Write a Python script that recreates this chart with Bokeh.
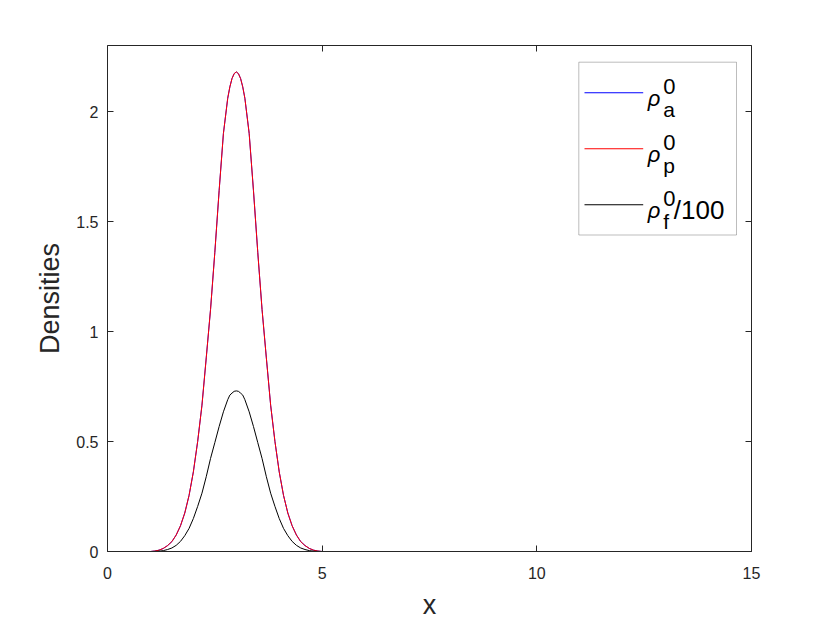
from bokeh.plotting import figure
from bokeh.models import (Range1d, LinearAxis, FixedTicker, BoxAnnotation, Label)
from bokeh.embed import file_html
from bokeh.resources import INLINE

# ---- data ----
x_vals = [0.0,
          1.0, 1.1, 1.2, 1.3, 1.4, 1.5, 1.6, 1.7, 1.8, 1.9,
          2.0, 2.1, 2.2, 2.3, 2.4, 2.5, 2.6, 2.7, 2.8, 2.85, 2.9, 2.95,
          3.0, 3.05, 3.1, 3.15, 3.2, 3.3, 3.4, 3.5, 3.6, 3.7, 3.8, 3.9,
          4.0, 4.1, 4.2, 4.3, 4.4, 4.5, 4.6, 4.7, 4.8, 4.9,
          5.0, 15.0]

rho_a = [0.0,
         0.0, 0.002, 0.006, 0.014, 0.027, 0.045, 0.075, 0.117, 0.175, 0.255,
         0.362, 0.50, 0.665, 0.88, 1.10, 1.36, 1.64, 1.90, 2.06, 2.112, 2.15, 2.172,
         2.18, 2.172, 2.15, 2.112, 2.06, 1.90, 1.64, 1.36, 1.10, 0.88, 0.665, 0.50,
         0.362, 0.255, 0.175, 0.117, 0.075, 0.045, 0.027, 0.014, 0.006, 0.002,
         0.0, 0.0]

rho_p = [0.0,
         0.0, 0.002, 0.006, 0.014, 0.027, 0.045, 0.075, 0.117, 0.175, 0.255,
         0.362, 0.50, 0.665, 0.88, 1.10, 1.36, 1.64, 1.90, 2.06, 2.112, 2.15, 2.172,
         2.18, 2.172, 2.15, 2.112, 2.06, 1.90, 1.64, 1.36, 1.10, 0.88, 0.665, 0.50,
         0.362, 0.255, 0.175, 0.117, 0.075, 0.045, 0.027, 0.014, 0.006, 0.002,
         0.0, 0.0]

rho_f_100 = [0.0,
             0.0, 0.0003, 0.0015, 0.004, 0.009, 0.016, 0.028, 0.046, 0.072, 0.105,
             0.15, 0.205, 0.265, 0.34, 0.423, 0.495, 0.568, 0.635, 0.69, 0.711, 0.72, 0.728,
             0.73, 0.728, 0.72, 0.711, 0.69, 0.635, 0.568, 0.495, 0.423, 0.34, 0.265, 0.205,
             0.15, 0.105, 0.072, 0.046, 0.028, 0.016, 0.009, 0.004, 0.0015, 0.0003,
             0.0, 0.0]

x_ticks = [0, 5, 10, 15]
y_ticks = [0, 0.5, 1, 1.5, 2]
y_tick_labels = ["0", "0.5", "1", "1.5", "2"]

FONT = "Liberation Sans"
AX = "#262626"

p = figure(frame_width=644, frame_height=506,
           x_range=Range1d(0, 15), y_range=Range1d(0, 2.3),
           output_backend="svg", toolbar_location=None,
           min_border_left=107, min_border_right=71,
           min_border_top=45, min_border_bottom=64,
           background_fill_color="white", border_fill_color="white")
p.grid.visible = False
p.outline_line_color = None

p.line(x_vals, rho_a, line_color="#0000ff", line_width=1)
p.line(x_vals, rho_p, line_color="#ff0000", line_width=1)
p.line(x_vals, rho_f_100, line_color="#000000", line_width=1)

def style(ax, ticks, show_labels, labels=None):
    ax.ticker = FixedTicker(ticks=ticks)
    ax.major_tick_in = 6
    ax.major_tick_out = 0
    ax.minor_tick_line_color = None
    ax.axis_line_color = AX
    ax.major_tick_line_color = AX
    ax.axis_line_width = 1
    ax.major_label_text_font = FONT
    ax.major_label_text_font_size = "16px"
    ax.major_label_text_color = AX
    if labels is not None:
        ax.major_label_overrides = {t: l for t, l in zip(ticks, labels)}
    if not show_labels:
        ax.major_label_overrides = {t: "" for t in ticks}

xa = p.xaxis[0]
ya = p.yaxis[0]
style(xa, x_ticks, True, [str(t) for t in x_ticks])
style(ya, y_ticks, True, y_tick_labels)
xa.major_label_standoff = 15
ya.major_label_standoff = 9
xa.axis_label = "x"
ya.axis_label = "Densities"
for a in (xa, ya):
    a.axis_label_text_font = FONT
    a.axis_label_text_font_size = "27px"
    a.axis_label_text_font_style = "normal"
    a.axis_label_text_color = AX
xa.axis_label_standoff = 8
ya.axis_label_standoff = 8

ra = LinearAxis()
ta = LinearAxis()
style(ra, y_ticks, False)
style(ta, x_ticks, False)
p.add_layout(ra, "right")
p.add_layout(ta, "above")

# ---- legend drawn by hand (screen units, relative to the plot frame) ----
p.add_layout(BoxAnnotation(left=471.3, right=629, bottom=316.5, top=489.3,
                           left_units="screen", right_units="screen",
                           bottom_units="screen", top_units="screen",
                           fill_color="white", fill_alpha=1.0,
                           line_color=AX, line_width=1))

leg_colors = ["#0000ff", "#ff0000", "#000000"]
leg_line_y = [458.7, 402.7, 346.7]
leg_sub = ["a", "p", "f"]
leg_tail = ["", "", "/100"]

for c, ly, s, t in zip(leg_colors, leg_line_y, leg_sub, leg_tail):
    p.add_layout(BoxAnnotation(left=477, right=535.7, bottom=ly - 0.5, top=ly + 0.5,
                               left_units="screen", right_units="screen",
                               bottom_units="screen", top_units="screen",
                               fill_color=c, fill_alpha=1.0, line_color=None))
    p.add_layout(Label(x=540.3, y=ly - 5.5, x_units="screen", y_units="screen",
                       text="ρ", text_font=FONT, text_font_style="italic",
                       text_font_size="22px", text_color="black",
                       text_baseline="alphabetic"))
    p.add_layout(Label(x=555.7, y=ly + 6.5, x_units="screen", y_units="screen",
                       text="0", text_font=FONT, text_font_size="22px",
                       text_color="black", text_baseline="alphabetic"))
    p.add_layout(Label(x=555.7, y=ly - 16.5, x_units="screen", y_units="screen",
                       text=s, text_font=FONT, text_font_size="21px",
                       text_color="black", text_baseline="alphabetic"))
    if t:
        p.add_layout(Label(x=566.3, y=ly - 5.5, x_units="screen", y_units="screen",
                           text=t, text_font=FONT, text_font_size="26px",
                           text_color="black", text_baseline="alphabetic"))

open("out.html", "w").write(file_html(p, INLINE))
